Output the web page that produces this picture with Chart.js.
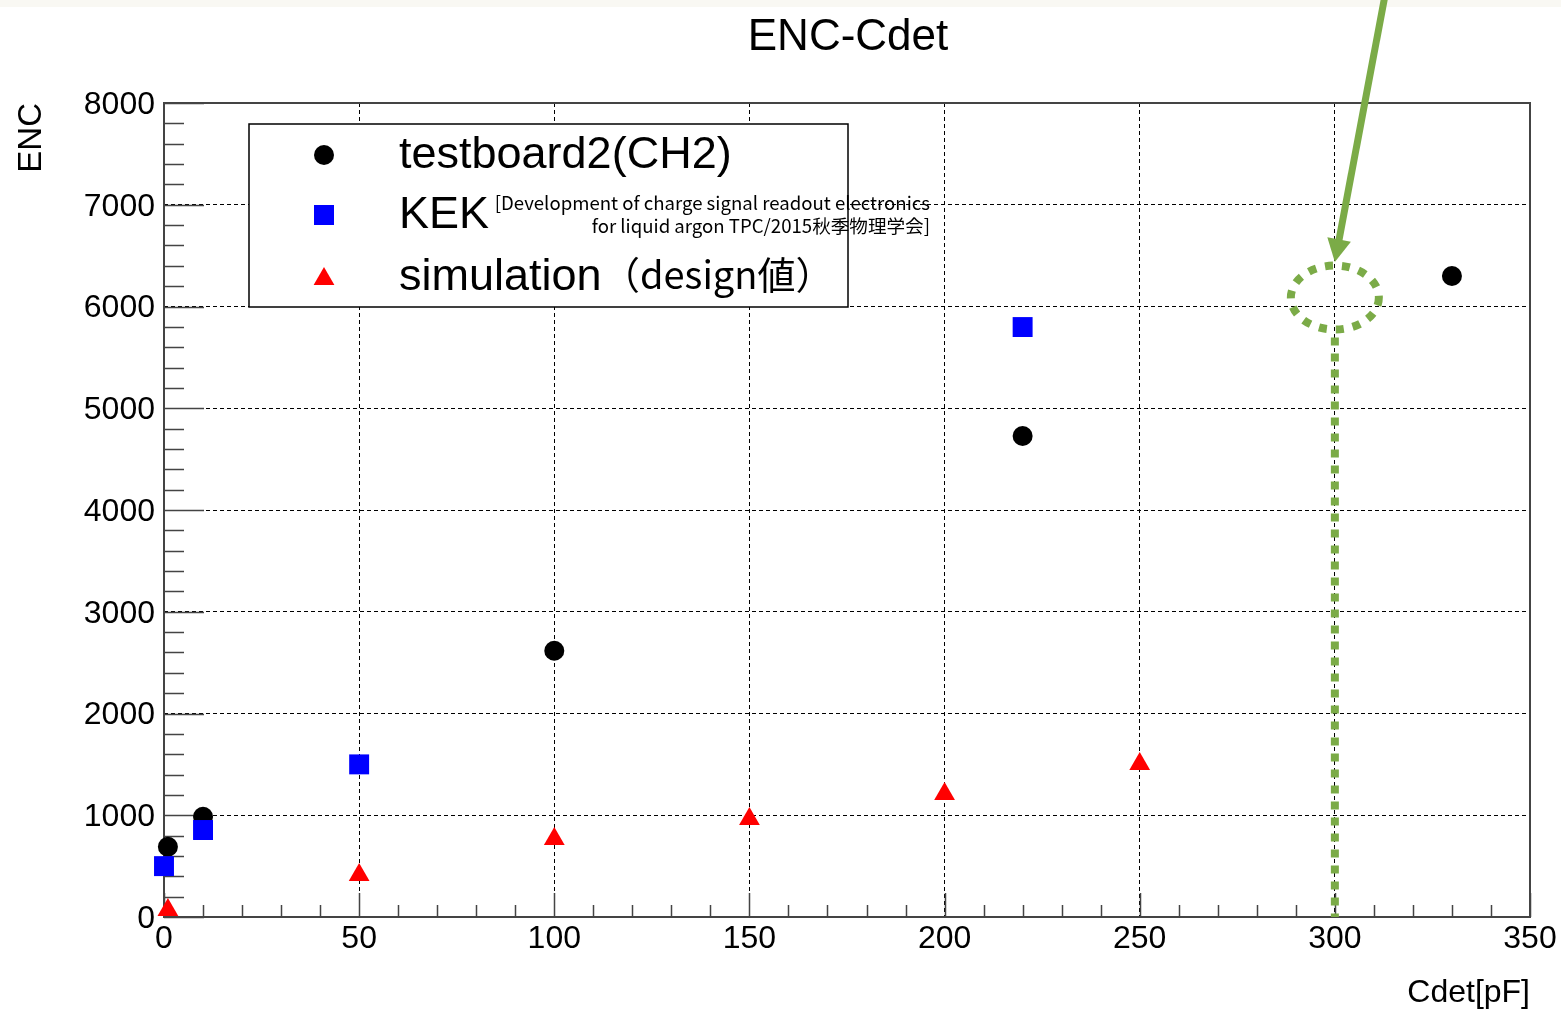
<!DOCTYPE html>
<html>
<head>
<meta charset="utf-8">
<title>ENC-Cdet</title>
<script src="https://cdn.jsdelivr.net/npm/chart.js@4.4.1/dist/chart.umd.min.js"></script>
<style>
  html, body { margin: 0; padding: 0; background: #fff; }
  canvas { display: block; }
</style>
</head>
<body>
<canvas id="encChart" width="1561" height="1014"></canvas>
<script>
// testboard2 (CH2)
const cdetTestboard = [1, 10, 100, 220, 330];
const encTestboard = [690, 985, 2617, 4727, 6300];
// KEK reference values
const cdetKek = [0, 10, 50, 220];
const encKek = [500, 855, 1500, 5798];
// simulation (design values)
const cdetSim = [1, 50, 100, 150, 200, 250];
const encSim = [69, 413, 767, 963, 1209, 1504];

const xRange = [0, 350];
const yRange = [0, 8000];
const xMajor = 50, xMinor = 10;
const yMajor = 1000, yMinor = 200;

// green highlight around Cdet = 300pF
const markedCdet = 300;
const markedEnc = 6088;

const sans = "'Liberation Sans', Arial, Helvetica, sans-serif";
const jp = "'Noto Sans CJK JP', 'Noto Sans', sans-serif";
const green = '#7bab47';

function toPoints(xs, ys) {
  return xs.map((x, i) => ({ x: x, y: ys[i] }));
}

function drawMarker(ctx, style, x, y, color) {
  ctx.fillStyle = color;
  ctx.beginPath();
  if (style === 'circle') {
    ctx.arc(x, y, 10, 0, Math.PI * 2);
  } else if (style === 'rect') {
    ctx.rect(x - 10, y - 10, 20, 20);
  } else {
    const r = 12;
    ctx.moveTo(x, y - r);
    ctx.lineTo(x + 0.866 * r, y + 0.5 * r);
    ctx.lineTo(x - 0.866 * r, y + 0.5 * r);
    ctx.closePath();
  }
  ctx.fill();
}

const rootStyle = {
  id: 'rootStyle',
  beforeDraw(chart) {
    const ctx = chart.ctx;
    ctx.save();
    ctx.fillStyle = '#fff';
    ctx.fillRect(0, 0, chart.width, chart.height);
    ctx.fillStyle = '#f9f8f3';
    ctx.fillRect(0, 0, chart.width, 7);
    ctx.restore();
  },
  beforeDatasetsDraw(chart) {
    const { ctx, chartArea: a, scales: { x, y } } = chart;
    ctx.save();
    ctx.strokeStyle = '#444';
    ctx.lineWidth = 1.5;
    ctx.beginPath();
    for (let v = yRange[0]; v <= yRange[1]; v += yMinor) {
      const py = Math.round(y.getPixelForValue(v)) + 0.5;
      const len = v % yMajor === 0 ? 40 : 20;
      ctx.moveTo(a.left, py);
      ctx.lineTo(a.left + len, py);
    }
    for (let v = xRange[0]; v <= xRange[1]; v += xMinor) {
      const px = Math.round(x.getPixelForValue(v)) + 0.5;
      const len = v % xMajor === 0 ? 24 : 12;
      ctx.moveTo(px, a.bottom);
      ctx.lineTo(px, a.bottom - len);
    }
    ctx.stroke();
    ctx.lineWidth = 2;
    ctx.strokeRect(a.left, a.top, a.right - a.left, a.bottom - a.top);
    ctx.restore();
  },
  afterDatasetsDraw(chart) {
    const ctx = chart.ctx;
    ctx.save();
    // legend box
    ctx.fillStyle = '#fff';
    ctx.fillRect(249, 124, 599, 183);
    ctx.strokeStyle = '#000';
    ctx.lineWidth = 1.5;
    ctx.strokeRect(249, 124, 599, 183);

    drawMarker(ctx, 'circle', 324, 155, '#000');
    drawMarker(ctx, 'rect', 324, 215, '#0000ff');
    drawMarker(ctx, 'triangle', 324, 279, '#ff0000');

    ctx.fillStyle = '#000';
    ctx.textBaseline = 'alphabetic';
    ctx.textAlign = 'left';
    ctx.font = '45px ' + sans;
    ctx.fillText('testboard2(CH2)', 399, 168);
    ctx.fillText('KEK', 399, 228);
    ctx.fillText('simulation', 399, 290);
    ctx.font = '38px ' + jp;
    ctx.fillText('（design値）', 602, 289);

    ctx.font = '18.6px ' + jp;
    ctx.textAlign = 'right';
    ctx.fillText('[Development of charge signal readout electronics', 930, 210);
    ctx.fillText('for liquid argon TPC/2015秋季物理学会]', 930, 233);
    ctx.restore();
  },
  afterDraw(chart) {
    const { ctx, chartArea: a, scales: { x, y } } = chart;
    ctx.save();
    ctx.fillStyle = '#000';
    ctx.font = '44px ' + sans;
    ctx.textAlign = 'center';
    ctx.textBaseline = 'alphabetic';
    ctx.fillText('ENC-Cdet', 848, 50);

    const cx = x.getPixelForValue(markedCdet);
    const cy = y.getPixelForValue(markedEnc);
    const rx = 44, ry = 32;
    ctx.strokeStyle = green;
    ctx.lineWidth = 8;
    ctx.setLineDash([8, 9]);
    ctx.beginPath();
    ctx.ellipse(cx, cy, rx, ry, 0, 0, Math.PI * 2);
    ctx.stroke();

    ctx.setLineDash([8, 8]);
    ctx.beginPath();
    ctx.moveTo(cx, cy + ry + 8);
    ctx.lineTo(cx, a.bottom);
    ctx.stroke();

    // arrow pointing at the circle
    ctx.setLineDash([]);
    const tipX = cx, tipY = cy - ry - 3.5;
    const sx = 1386, sy = -10;
    const dx = tipX - sx, dy = tipY - sy;
    const len = Math.hypot(dx, dy);
    const ux = dx / len, uy = dy / len;
    const headLen = 23, headHalf = 12;
    const bx = tipX - ux * headLen, by = tipY - uy * headLen;
    ctx.lineWidth = 7;
    ctx.beginPath();
    ctx.moveTo(sx, sy);
    ctx.lineTo(bx + ux * 2, by + uy * 2);
    ctx.stroke();
    ctx.fillStyle = green;
    ctx.beginPath();
    ctx.moveTo(tipX, tipY);
    ctx.lineTo(bx - uy * headHalf, by + ux * headHalf);
    ctx.lineTo(bx + uy * headHalf, by - ux * headHalf);
    ctx.closePath();
    ctx.fill();
    ctx.restore();
  }
};

new Chart(document.getElementById('encChart'), {
  type: 'scatter',
  data: {
    datasets: [
      {
        label: 'testboard2(CH2)',
        data: toPoints(cdetTestboard, encTestboard),
        pointStyle: 'circle',
        pointRadius: 10,
        backgroundColor: '#000',
        borderWidth: 0,
        clip: false,
        order: 3
      },
      {
        label: 'KEK',
        data: toPoints(cdetKek, encKek),
        pointStyle: 'rect',
        pointRadius: 14.1,
        backgroundColor: '#0000ff',
        borderWidth: 0,
        clip: false,
        order: 2
      },
      {
        label: 'simulation（design値）',
        data: toPoints(cdetSim, encSim),
        pointStyle: 'triangle',
        pointRadius: 12,
        backgroundColor: '#ff0000',
        borderWidth: 0,
        clip: false,
        order: 1
      }
    ]
  },
  options: {
    responsive: false,
    animation: false,
    devicePixelRatio: 1,
    layout: { padding: { top: 103, right: 31, bottom: 0, left: 0 } },
    plugins: {
      legend: { display: false },
      title: { display: false },
      tooltip: { enabled: false }
    },
    scales: {
      x: {
        type: 'linear',
        min: xRange[0],
        max: xRange[1],
        grid: { color: '#000', lineWidth: 1, drawTicks: false },
        border: { display: false, dash: [4, 3] },
        ticks: {
          stepSize: xMajor,
          padding: 3,
          color: '#000',
          maxRotation: 0,
          font: { family: sans, size: 32 },
          callback: (v) => String(v)
        },
        title: {
          display: true,
          text: 'Cdet[pF]',
          align: 'end',
          color: '#000',
          padding: { top: 0, bottom: 2 },
          font: { family: sans, size: 32 }
        },
        afterFit(scale) { scale.height = 97; }
      },
      y: {
        type: 'linear',
        min: yRange[0],
        max: yRange[1],
        grid: { color: '#000', lineWidth: 1, drawTicks: false },
        border: { display: false, dash: [4, 3] },
        ticks: {
          stepSize: yMajor,
          padding: 9,
          labelOffset: 2,
          color: '#000',
          font: { family: sans, size: 32 },
          callback: (v) => String(v)
        },
        title: {
          display: true,
          text: 'ENC',
          align: 'end',
          color: '#000',
          padding: { top: 12, bottom: 0 },
          font: { family: sans, size: 33 }
        },
        afterFit(scale) { scale.width = 164; }
      }
    }
  },
  plugins: [rootStyle]
});
</script>
</body>
</html>
